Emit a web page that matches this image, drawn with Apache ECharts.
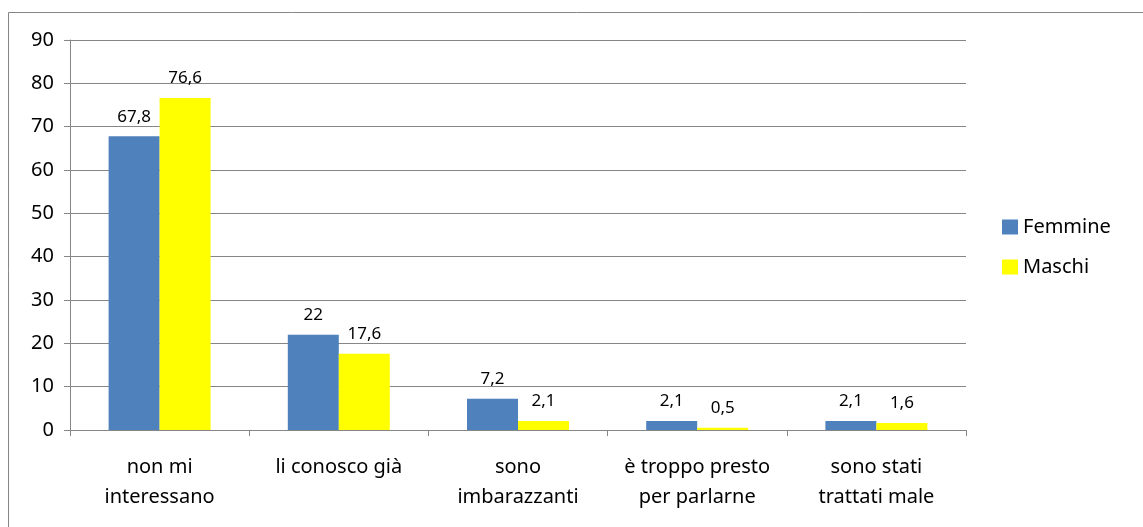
<!DOCTYPE html>
<html>
<head>
<meta charset="utf-8">
<script src="https://cdn.jsdelivr.net/npm/echarts@6/dist/echarts.min.js"></script>
<style>
  html, body { margin: 0; padding: 0; background: #fff; }
  #chart { width: 1143px; height: 527px; }
</style>
</head>
<body>
<div id="chart"></div>
<script>
const categories = ['non mi\ninteressano', 'li conosco già', 'sono\nimbarazzanti', 'è troppo presto\nper parlarne', 'sono stati\ntrattati male']
const femmine = [67.8, 22, 7.2, 2.1, 2.1]
const maschi = [76.6, 17.6, 2.1, 0.5, 1.6]
const yTicks = { min: 0, max: 90, interval: 10 }

const font = 'Noto Sans, Open Sans, sans-serif'
const labelComma = p => String(p.value).replace('.', ',')

const chart = echarts.init(document.getElementById('chart'))
chart.setOption({
  backgroundColor: '#fff',
  animation: false,
  textStyle: { fontFamily: font },
  graphic: [
    {
      type: 'rect',
      shape: { x: 8.5, y: 12.5, width: 1140, height: 530 },
      style: { fill: 'none', stroke: '#868686', lineWidth: 1 }
    }
  ],
  grid: { left: 70, top: 40, width: 896, height: 390, containLabel: false },
  legend: {
    orient: 'vertical',
    left: 997,
    top: 212,
    itemWidth: 16,
    itemHeight: 15,
    itemGap: 20,
    icon: 'rect',
    textStyle: { fontSize: 20, color: '#000', fontFamily: font },
    data: ['Femmine', 'Maschi']
  },
  xAxis: {
    type: 'category',
    data: categories,
    axisLine: { lineStyle: { color: '#868686' } },
    axisTick: { show: true, length: 6, alignWithLabel: false, lineStyle: { color: '#868686' } },
    axisLabel: { color: '#000', fontSize: 20, lineHeight: 30, margin: 22, interval: 0, fontFamily: font }
  },
  yAxis: {
    type: 'value',
    min: yTicks.min,
    max: yTicks.max,
    interval: yTicks.interval,
    axisLine: { show: true, lineStyle: { color: '#868686' } },
    axisTick: { show: true, length: 6, lineStyle: { color: '#868686' } },
    splitLine: { show: true, lineStyle: { color: '#868686' } },
    axisLabel: { color: '#000', fontSize: 20, margin: 16, fontFamily: font }
  },
  series: [
    {
      name: 'Femmine',
      type: 'bar',
      data: femmine,
      barWidth: 51,
      barGap: '0%',
      itemStyle: { color: '#4F81BD' },
      label: { show: true, position: 'top', distance: 11, color: '#000', fontSize: 17, formatter: labelComma }
    },
    {
      name: 'Maschi',
      type: 'bar',
      data: maschi,
      barWidth: 51,
      barGap: '0%',
      itemStyle: { color: '#FFFF00' },
      label: { show: true, position: 'top', distance: 11, color: '#000', fontSize: 17, formatter: labelComma }
    }
  ]
})
</script>
</body>
</html>
